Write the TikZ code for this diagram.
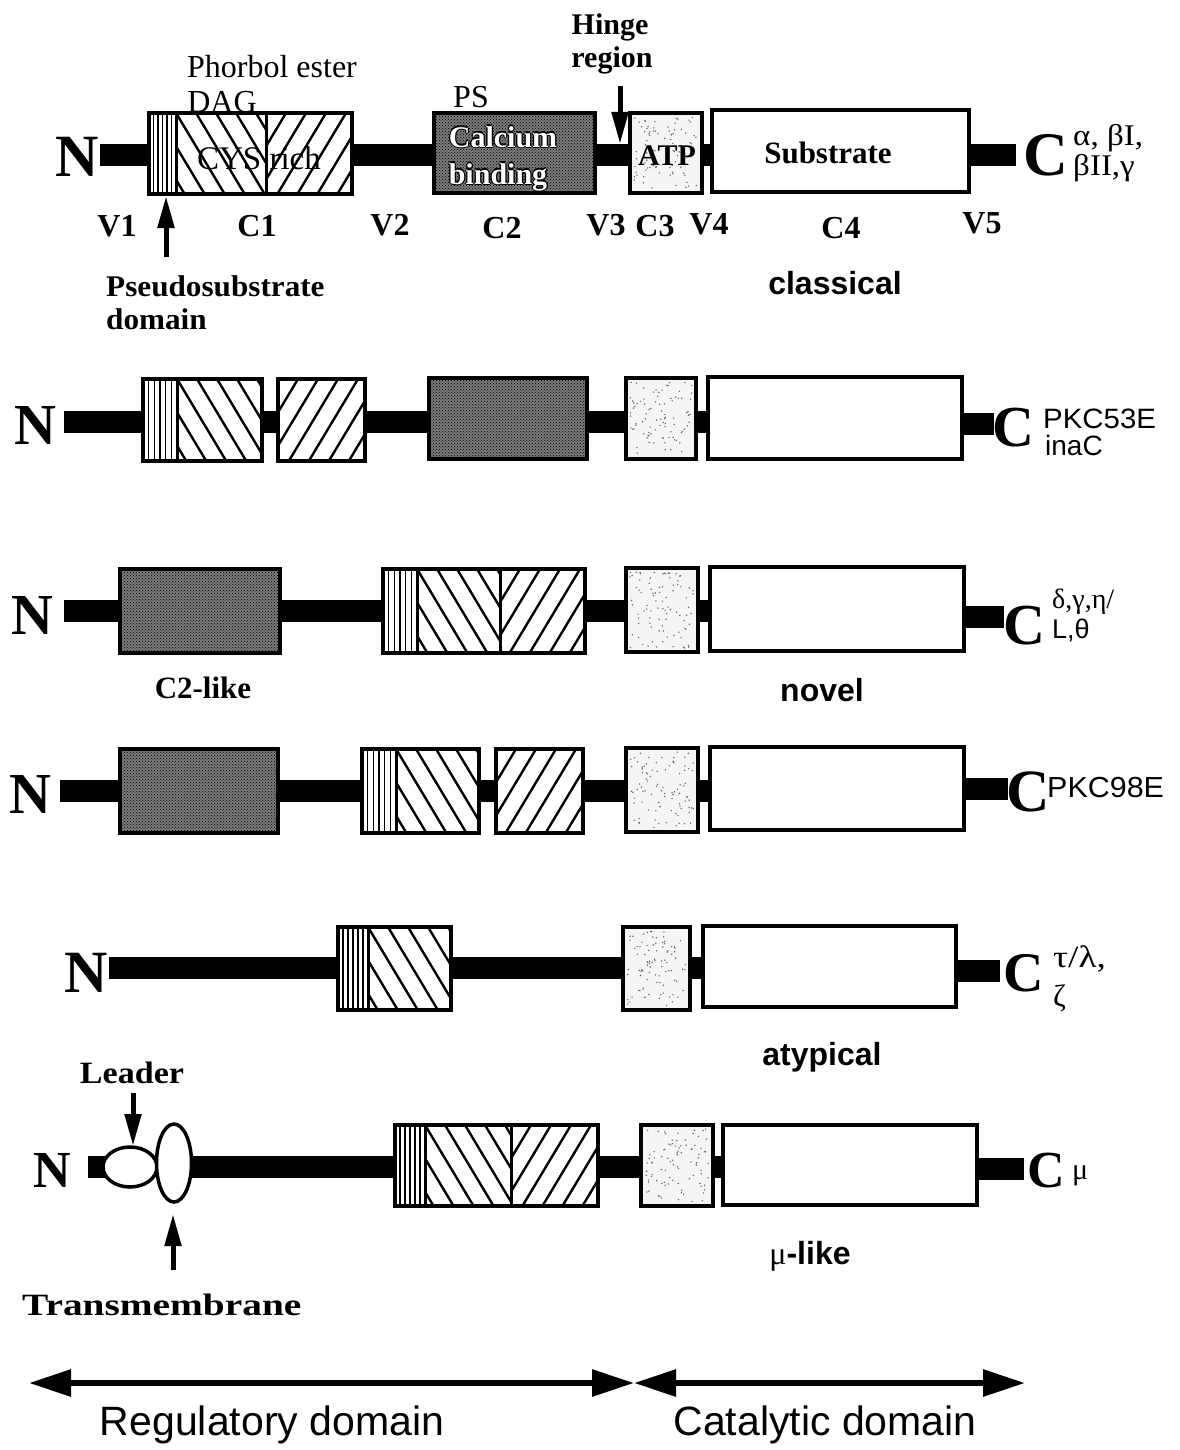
\documentclass[tikz,border=0pt]{standalone}
\usepackage{fontspec}
\usepackage{graphicx}
\setmainfont{Liberation Serif}
\setsansfont{Liberation Sans}
\usetikzlibrary{arrows.meta,patterns}

\newcommand{\fs}[1]{\fontsize{#1}{#1}\selectfont}
\newcommand{\sx}[2]{\scalebox{#1}[1]{#2}}
\newcommand{\outl}[1]{\leavevmode\rlap{\kern-1.3pt\color{black}#1}\rlap{\kern1.3pt\color{black}#1}\rlap{\raisebox{1.3pt}{\color{black}#1}}\rlap{\raisebox{-1.3pt}{\color{black}#1}}{\color{white}#1}}

% bar segment: x1 x2 ycenter
\newcommand{\pkcseg}[3]{\fill (#1,{#3-11}) rectangle (#2,{#3+11});}
% pseudosubstrate stripes: x1 y1 x2 y2
\newcommand{\pkcstripe}[4]{%
  \foreach \s in {1,...,5}{\draw[line width=1.3pt] ({#1+\s*(#3-#1)/6},#2) -- ({#1+\s*(#3-#1)/6},#4);}
  \draw[line width=3pt] (#3,#2) -- (#3,#4);}
% back-slash hatch
\newcommand{\pkcbs}[4]{\begin{scope}\clip (#1,#2) rectangle (#3,#4);
  \foreach \k in {-4,...,8}{\draw[hatchline] ({#1+\k*20},#2) -- ({#1+\k*20+0.6*(#4-#2)},#4);}
  \end{scope}}
% forward-slash hatch
\newcommand{\pkcfs}[4]{\begin{scope}\clip (#1,#2) rectangle (#3,#4);
  \foreach \k in {-4,...,8}{\draw[hatchline] ({#1+\k*20-0.6*(#4-#2)},#4) -- ({#1+\k*20},#2);}
  \end{scope}}
% divider
\newcommand{\pkcdiv}[3]{\draw[line width=3pt] (#1,#2) -- (#1,#3);}
% frame
\newcommand{\pkcframe}[4]{\draw[boxline] (#1,#2) rectangle (#3,#4);}
% dark calcium box
\newcommand{\pkcctwo}[4]{\fill[c2fill] (#1,#2) rectangle (#3,#4); \pkcframe{#1}{#2}{#3}{#4}}
% light ATP box
\newcommand{\pkcatp}[4]{\fill[atpfill] (#1,#2) rectangle (#3,#4);
  \foreach \i in {1,...,90}{\pgfmathsetmacro{\rx}{#1+4+rnd*(#3-#1-8)}\pgfmathsetmacro{\ry}{#2+4+rnd*(#4-#2-8)}\fill[black!60] (\rx,\ry) circle (0.8pt);}
  \pkcframe{#1}{#2}{#3}{#4}}

\tikzset{
  boxline/.style={draw=black,line width=4pt},
  hatchline/.style={line width=2.4pt},
  c2fill/.style={fill=black!52,postaction={pattern=crosshatch dots,pattern color=black}},
  atpfill/.style={fill=black!4},
  bigl/.style={inner sep=0pt,font=\bfseries\fs{#1}},
  serl/.style={inner sep=0pt,font=\fs{#1}},
  bser/.style={inner sep=0pt,font=\bfseries\fs{#1}},
  bsans/.style={inner sep=0pt,font=\sffamily\bfseries\fs{#1}},
  rsans/.style={inner sep=0pt,font=\sffamily\fs{#1}},
  ptr/.style={line width=5pt,-{Triangle[length=32pt,width=16pt]}},
  dom/.style={line width=6pt,{Triangle[length=42pt,width=26pt]}-{Triangle[length=42pt,width=26pt]}},
}

\begin{document}
\begin{tikzpicture}[x=1pt,y=-1pt]
\pgfmathsetseed{11}
\useasboundingbox (0,0) rectangle (1179,1450);
\fill[white] (0,0) rectangle (1179,1450);

%================ Row 1: classical ================
\pkcseg{100}{149}{155}
\pkcseg{352}{434}{155}
\pkcseg{595}{630}{155}
\pkcseg{702}{712}{155}
\pkcseg{969}{1016}{155}
\fill[white] (149,113) rectangle (352,194);
\pkcstripe{149}{113}{176}{194}
\pkcbs{176}{113}{266}{194}
\pkcfs{266}{113}{352}{194}
\pkcdiv{266}{113}{194}
\pkcframe{149}{113}{352}{194}
\pkcctwo{434}{113}{595}{193}
\pkcatp{630}{113}{702}{193}
\fill[white] (712,110) rectangle (969,192);
\pkcframe{712}{110}{969}{192}

\node[bigl=60] (n1) at (77,157) {N};
\node[bigl=62] (c1) at (1046,155) {C};
\node[serl=30,anchor=west] (c1a) at (1073,138) {\sx{1.1}{α, βI,}};
\node[serl=30,anchor=west] (c1b) at (1073,168) {\sx{1.1}{βII,γ}};
\node[serl=33] (cys) at (259,158) {CYS rich};
\node[bser=30] (calc) at (503,137) {\outl{Calcium}};
\node[bser=30] (bind) at (498,177) {\outl{binding}};
\node[bser=30] (atp) at (667,156) {ATP};
\node[bser=31] (subs) at (828,153) {Substrate};
\node[serl=32] (phor) at (272,67) {Phorbol ester};
\node[serl=32] (dag) at (222,102) {DAG};
\node[serl=32] (ps) at (471,97) {PS};
\node[bser=30] (hinge) at (610,27) {Hinge};
\node[bser=30] (region) at (612,60) {region};
\node[bser=32] (v1) at (117,226) {V1};
\node[bser=32] (lc1) at (257,226) {C1};
\node[bser=32] (v2) at (390,225) {V2};
\node[bser=32] (lc2) at (502,228) {C2};
\node[bser=32] (v3) at (606,225) {V3};
\node[bser=32] (lc3) at (655,226) {C3};
\node[bser=32] (v4) at (709,224) {V4};
\node[bser=32] (lc4) at (841,228) {C4};
\node[bser=32] (v5) at (982,223) {V5};
\node[bser=30,anchor=west] (pseudo) at (106,286) {\sx{1.04}{Pseudosubstrate}};
\node[bser=30,anchor=west] (pdom) at (106,319) {\sx{1.04}{domain}};
\node[bsans=32] (classical) at (835,283) {classical};

\coordinate (pstail) at (166,257);
\coordinate (pstip) at (166,196);
\draw[ptr] (pstail) -- (pstip);
\coordinate (hgtail) at (620,86);
\coordinate (hgtip) at (620,144);
\draw[ptr] (hgtail) -- (hgtip);

%================ Row 2: PKC53E ================
\pkcseg{64}{143}{422}
\pkcseg{262}{278}{422}
\pkcseg{365}{429}{422}
\pkcseg{587}{626}{422}
\pkcseg{696}{708}{422}
\pkcseg{962}{994}{424}
\fill[white] (143,379) rectangle (262,461);
\pkcstripe{143}{379}{177}{461}
\pkcbs{177}{379}{262}{461}
\pkcframe{143}{379}{262}{461}
\fill[white] (278,379) rectangle (365,461);
\pkcfs{278}{379}{365}{461}
\pkcframe{278}{379}{365}{461}
\pkcctwo{429}{378}{587}{459}
\pkcatp{626}{378}{696}{459}
\fill[white] (708,377) rectangle (962,459);
\pkcframe{708}{377}{962}{459}

\node[bigl=58] (n2) at (35,426) {N};
\node[bigl=58] (c2) at (1013,428) {C};
\node[rsans=28,anchor=west] (c2a) at (1043,419) {\sx{1.05}{PKC53E}};
\node[rsans=28,anchor=west] (c2b) at (1045,445) {inaC};

%================ Row 3: novel ================
\pkcseg{64}{120}{611}
\pkcseg{280}{383}{611}
\pkcseg{585}{626}{611}
\pkcseg{698}{710}{611}
\pkcseg{964}{1004}{617}
\pkcctwo{120}{569}{280}{653}
\fill[white] (383,569) rectangle (585,653);
\pkcstripe{383}{569}{417}{653}
\pkcbs{417}{569}{500}{653}
\pkcfs{500}{569}{585}{653}
\pkcdiv{500}{569}{653}
\pkcframe{383}{569}{585}{653}
\pkcatp{626}{568}{698}{652}
\fill[white] (710,567) rectangle (964,651);
\pkcframe{710}{567}{964}{651}

\node[bigl=58] (n3) at (32,616) {N};
\node[bigl=58] (c3) at (1024,626) {C};
\node[serl=28,anchor=west] (c3a) at (1052,602) {δ,γ,η/};
\node[rsans=27,anchor=west] (c3b) at (1052,630) {L,θ};
\node[bser=31] (c2like) at (203,688) {C2-like};
\node[bsans=32] (novel) at (822,690) {novel};

%================ Row 4: PKC98E ================
\pkcseg{60}{120}{791}
\pkcseg{278}{362}{791}
\pkcseg{479}{496}{791}
\pkcseg{583}{626}{791}
\pkcseg{698}{710}{791}
\pkcseg{964}{1008}{789}
\pkcctwo{120}{749}{278}{833}
\fill[white] (362,749) rectangle (479,833);
\pkcstripe{362}{749}{396}{833}
\pkcbs{396}{749}{479}{833}
\pkcframe{362}{749}{479}{833}
\fill[white] (496,749) rectangle (583,833);
\pkcfs{496}{749}{583}{833}
\pkcframe{496}{749}{583}{833}
\pkcatp{626}{748}{698}{832}
\fill[white] (710,747) rectangle (964,830);
\pkcframe{710}{747}{964}{830}

\node[bigl=58] (n4) at (30,795) {N};
\node[bigl=60] (c4) at (1028,792) {C};
\node[rsans=29,anchor=west] (c4a) at (1047,788) {\sx{1.05}{PKC98E}};

%================ Row 5: atypical ================
\pkcseg{109}{338}{968}
\pkcseg{451}{623}{968}
\pkcseg{690}{703}{968}
\pkcseg{956}{1000}{971}
\fill[white] (338,927) rectangle (451,1010);
\pkcstripe{338}{927}{368}{1010}
\pkcbs{368}{927}{451}{1010}
\pkcframe{338}{927}{451}{1010}
\pkcatp{623}{927}{690}{1010}
\fill[white] (703,926) rectangle (956,1007);
\pkcframe{703}{926}{956}{1007}

\node[bigl=60] (n5) at (86,973) {N};
\node[bigl=56] (c5) at (1024,973) {C};
\node[serl=31,anchor=west] (c5a) at (1053,959) {\sx{1.2}{τ/λ,}};
\node[serl=31,anchor=west] (c5b) at (1053,998) {ζ};
\node[bsans=32] (atypical) at (822,1057) {atypical};

%================ Row 6: mu-like ================
\pkcseg{88}{110}{1167}
\pkcseg{185}{395}{1167}
\pkcseg{598}{641}{1167}
\pkcseg{713}{723}{1167}
\pkcseg{977}{1024}{1169}
\draw[line width=3.5pt,fill=white] (130,1167) ellipse [x radius=27pt, y radius=20pt];
\draw[line width=3.5pt,fill=white] (174,1163) ellipse [x radius=17.5pt, y radius=39pt];
\fill[white] (395,1125) rectangle (598,1206);
\pkcstripe{395}{1125}{425}{1206}
\pkcbs{425}{1125}{511}{1206}
\pkcfs{511}{1125}{598}{1206}
\pkcdiv{511}{1125}{1206}
\pkcframe{395}{1125}{598}{1206}
\pkcatp{641}{1125}{713}{1206}
\fill[white] (723,1125) rectangle (977,1205);
\pkcframe{723}{1125}{977}{1205}

\node[bigl=52] (n6) at (52,1170) {N};
\node[bigl=52] (c6) at (1046,1171) {C};
\node[serl=30,anchor=west] (c6a) at (1072,1176) {μ};
\node[bser=31] (leader) at (132,1073) {\sx{1.1}{Leader}};
\node[bser=31,anchor=west] (tm) at (22,1305) {\sx{1.27}{Transmembrane}};
\node[bsans=32] (mulike) at (810,1256) {{\rmfamily\mdseries μ}-like};

\coordinate (ldtail) at (133,1093);
\coordinate (ldtip) at (133,1146);
\draw[ptr] (ldtail) -- (ldtip);
\coordinate (tmtail) at (173,1270);
\coordinate (tmtip) at (173,1214);
\draw[ptr] (tmtail) -- (tmtip);

%================ Domain arrows ================
\coordinate (dl) at (29,1383);
\coordinate (dm) at (634,1383);
\coordinate (dr) at (1025,1383);
\draw[dom] (dl) -- (dm);
\draw[dom] (dm) -- (dr);
\node[rsans=41] (reg) at (272,1425) {Regulatory domain};
\node[rsans=41] (cat) at (825,1425) {Catalytic domain};
\end{tikzpicture}
\end{document}
